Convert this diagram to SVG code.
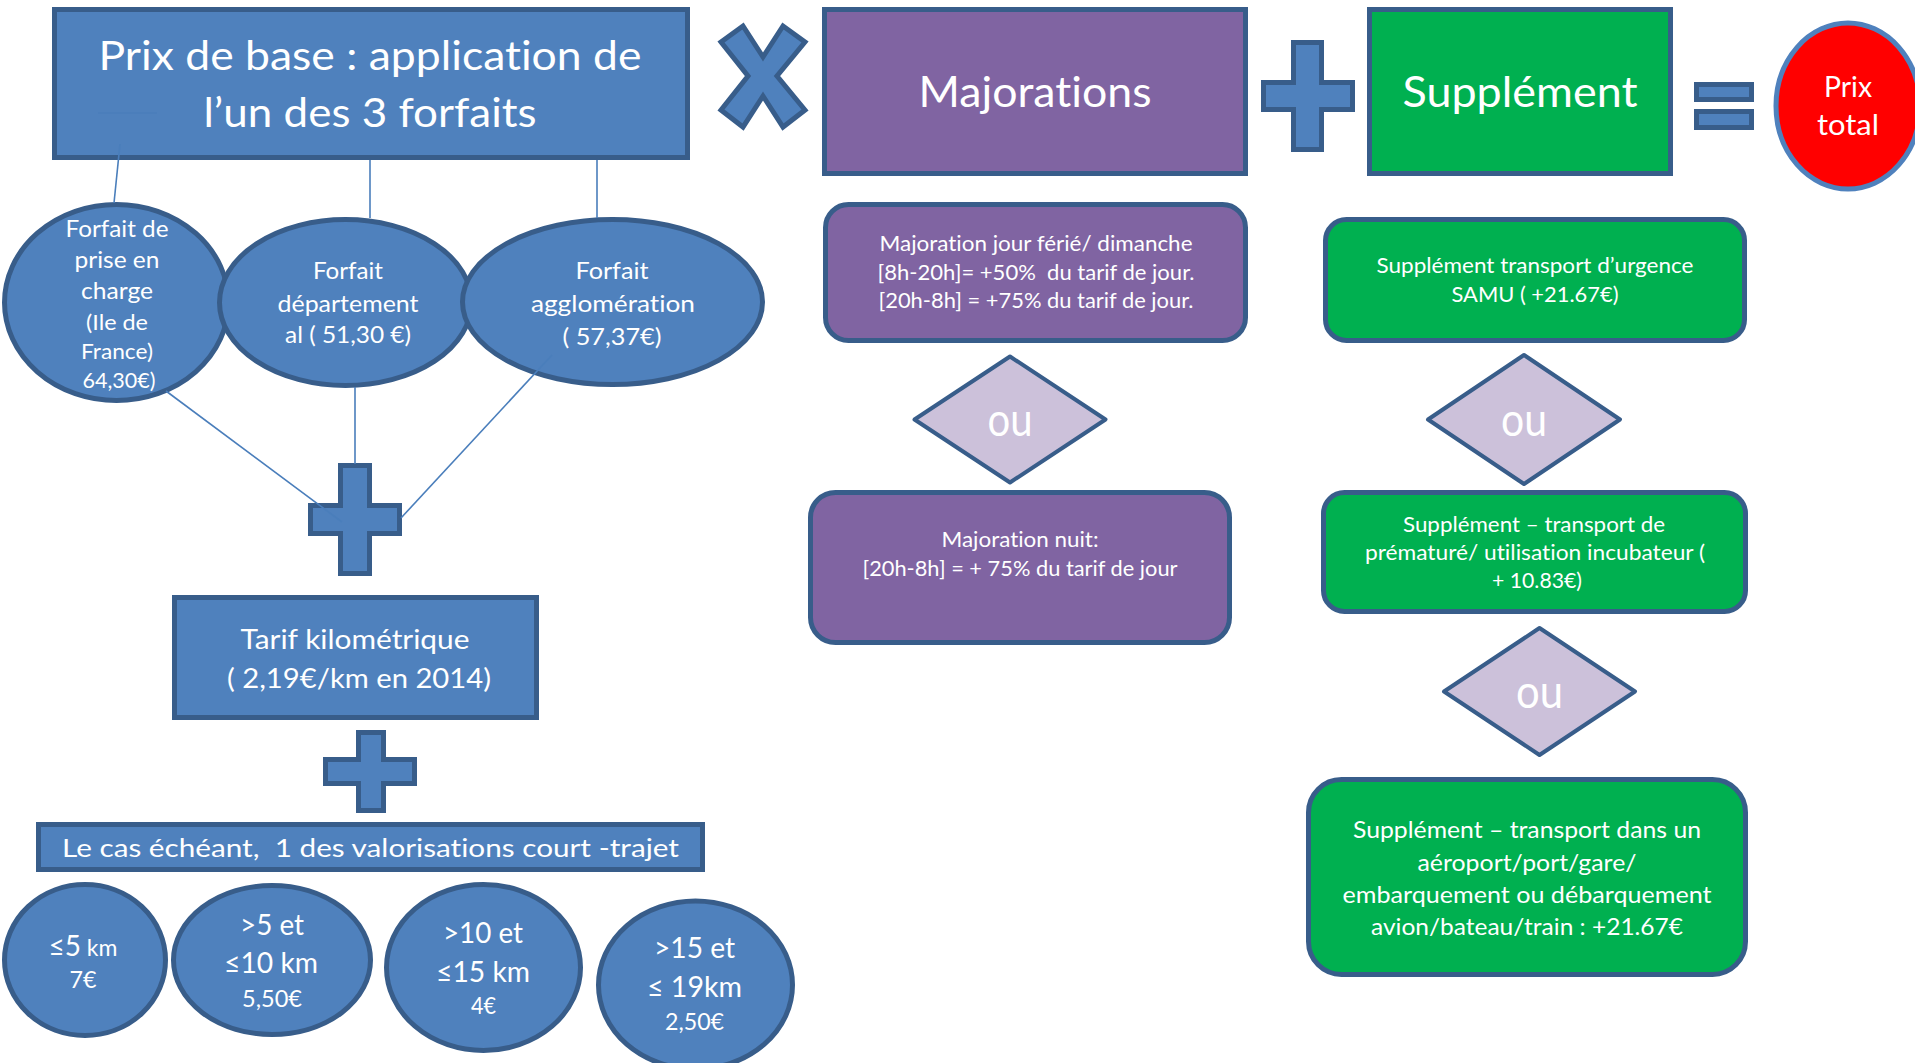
<svg xmlns="http://www.w3.org/2000/svg" width="1915" height="1063" viewBox="0 0 1915 1063">
<style>
text{font-family:Lato,"Open Sans","Liberation Sans",sans-serif;fill:#ffffff;text-anchor:middle;white-space:pre;font-variant-ligatures:none;font-feature-settings:"liga" 0}
.blue{fill:#4f81bd;stroke:#385d8a;stroke-width:5}
.purple{fill:#8064a2;stroke:#385d8a;stroke-width:5}
.green{fill:#00b050;stroke:#385d8a;stroke-width:5}
.dia{fill:#ccc1da;stroke:#385d8a;stroke-width:4;stroke-linejoin:round}
.conn{stroke:#4a7ebb;stroke-width:1.6;fill:none}
</style>
<rect width="1915" height="1063" fill="#ffffff"/>

<g id="prix-base">
<rect class="blue" x="54.5" y="9.5" width="633" height="148"/>
<text x="370" y="70" font-size="41" textLength="543" lengthAdjust="spacingAndGlyphs">Prix de base : application de</text>
<text x="370" y="127" font-size="41" textLength="333" lengthAdjust="spacingAndGlyphs">l’un des 3 forfaits</text>
</g>

<g id="multiply">
<polygon class="blue" stroke-linejoin="miter" points="721,42 743,26 763,57 783,26 805,42 777,76 805,110 783,127 763,96 743,127 721,110 748,76"/>
</g>

<g id="majorations">
<rect class="purple" x="824.5" y="9.5" width="421" height="164"/>
<text x="1035" y="107" font-size="42" textLength="233" lengthAdjust="spacingAndGlyphs">Majorations</text>
</g>

<g id="plus-top">
<polygon class="blue" points="1293.5,42.5 1321.5,42.5 1321.5,82.5 1352.5,82.5 1352.5,109.5 1321.5,109.5 1321.5,149.5 1293.5,149.5 1293.5,109.5 1263.5,109.5 1263.5,82.5 1293.5,82.5"/>
</g>

<g id="supplement">
<rect class="green" x="1369.5" y="9.5" width="301" height="164"/>
<text x="1520" y="107" font-size="43" textLength="235" lengthAdjust="spacingAndGlyphs">Supplément</text>
</g>

<g id="equals">
<rect class="blue" x="1696.5" y="84.5" width="55" height="15"/>
<rect class="blue" x="1696.5" y="111.5" width="55" height="16"/>
</g>

<g id="prix-total">
<ellipse cx="1848" cy="106" rx="72" ry="83" fill="#ff0000" stroke="#4f81bd" stroke-width="5"/>
<text x="1848" y="97" font-size="28" textLength="48" lengthAdjust="spacingAndGlyphs">Prix</text>
<text x="1848" y="135" font-size="28" textLength="62" lengthAdjust="spacingAndGlyphs">total</text>
</g>

<g id="forfait-prise-en-charge">
<ellipse class="blue" cx="116.5" cy="302.5" rx="112" ry="98"/>
<text x="117" y="237" font-size="23" textLength="103" lengthAdjust="spacingAndGlyphs">Forfait de</text>
<text x="117" y="268" font-size="23" textLength="85" lengthAdjust="spacingAndGlyphs">prise en</text>
<text x="117" y="299" font-size="23" textLength="72" lengthAdjust="spacingAndGlyphs">charge</text>
<text x="117" y="330" font-size="21" textLength="62" lengthAdjust="spacingAndGlyphs">(Ile de</text>
<text x="117" y="359" font-size="21" textLength="72" lengthAdjust="spacingAndGlyphs">France)</text>
<text x="119" y="388" font-size="21" textLength="73" lengthAdjust="spacingAndGlyphs">64,30€)</text>
</g>

<g id="forfait-departemental">
<ellipse class="blue" cx="345.5" cy="302.5" rx="126" ry="83"/>
<text x="348" y="279" font-size="23.5" textLength="70" lengthAdjust="spacingAndGlyphs">Forfait</text>
<text x="348" y="312" font-size="23.5" textLength="141" lengthAdjust="spacingAndGlyphs">département</text>
<text x="348" y="343" font-size="23.5" textLength="126" lengthAdjust="spacingAndGlyphs">al ( 51,30 €)</text>
</g>

<g id="forfait-agglomeration">
<ellipse class="blue" cx="612.5" cy="302" rx="150" ry="82.5"/>
<text x="612" y="279" font-size="23.5" textLength="73" lengthAdjust="spacingAndGlyphs">Forfait</text>
<text x="613" y="312" font-size="23.5" textLength="164" lengthAdjust="spacingAndGlyphs">agglomération</text>
<text x="612" y="345" font-size="23.5" textLength="99" lengthAdjust="spacingAndGlyphs">( 57,37€)</text>
</g>

<g id="plus-1">
<polygon class="blue" points="340.5,465.5 369.5,465.5 369.5,505.5 399.5,505.5 399.5,533.5 369.5,533.5 369.5,573.5 340.5,573.5 340.5,533.5 310.5,533.5 310.5,505.5 340.5,505.5"/>
</g>

<g id="tarif-kilometrique">
<rect class="blue" x="174.5" y="597.5" width="362" height="120"/>
<text x="355" y="649" font-size="27" textLength="229" lengthAdjust="spacingAndGlyphs">Tarif kilométrique</text>
<text x="359" y="688" font-size="27" textLength="264" lengthAdjust="spacingAndGlyphs">( 2,19€/km en 2014)</text>
</g>

<g id="plus-2">
<polygon class="blue" points="358.5,732.5 383.5,732.5 383.5,759.5 414.5,759.5 414.5,783.5 383.5,783.5 383.5,810.5 358.5,810.5 358.5,783.5 325.5,783.5 325.5,759.5 358.5,759.5"/>
</g>

<g id="court-trajet">
<rect class="blue" x="38.5" y="824.5" width="664" height="45"/>
<text x="370.5" y="857" font-size="25" textLength="617" lengthAdjust="spacingAndGlyphs">Le cas échéant,  1 des valorisations court -trajet</text>
</g>

<g id="km-5">
<ellipse class="blue" cx="85" cy="960" rx="80.5" ry="75.5"/>
<text x="83" y="956" font-size="28">≤5<tspan font-size="23"> km</tspan></text>
<text x="83" y="988" font-size="23.5" textLength="27" lengthAdjust="spacingAndGlyphs">7€</text>
</g>

<g id="km-10">
<ellipse class="blue" cx="272" cy="960" rx="98.5" ry="74.5"/>
<text x="272" y="935" font-size="28" textLength="64" lengthAdjust="spacingAndGlyphs">&gt;5 et</text>
<text x="271" y="973" font-size="28" textLength="94" lengthAdjust="spacingAndGlyphs">≤10 km</text>
<text x="272" y="1007" font-size="23.5" textLength="60" lengthAdjust="spacingAndGlyphs">5,50€</text>
</g>

<g id="km-15">
<ellipse class="blue" cx="483.5" cy="967.5" rx="97" ry="83"/>
<text x="483" y="943" font-size="28" textLength="80" lengthAdjust="spacingAndGlyphs">&gt;10 et</text>
<text x="483" y="982" font-size="28" textLength="94" lengthAdjust="spacingAndGlyphs">≤15 km</text>
<text x="483.5" y="1014" font-size="22.5" textLength="25" lengthAdjust="spacingAndGlyphs">4€</text>
</g>

<g id="km-19">
<ellipse class="blue" cx="695.5" cy="985" rx="97" ry="84"/>
<text x="694.5" y="958" font-size="28" textLength="81" lengthAdjust="spacingAndGlyphs">&gt;15 et</text>
<text x="694.5" y="997" font-size="28" textLength="95" lengthAdjust="spacingAndGlyphs">≤ 19km</text>
<text x="694.5" y="1030" font-size="23.5" textLength="59" lengthAdjust="spacingAndGlyphs">2,50€</text>
</g>

<g id="majoration-jour">
<rect class="purple" x="825.5" y="204.5" width="420" height="136" rx="23"/>
<text x="1036" y="251" font-size="21.5" textLength="313" lengthAdjust="spacingAndGlyphs">Majoration jour férié/ dimanche</text>
<text x="1036" y="280" font-size="21.5" textLength="317" lengthAdjust="spacingAndGlyphs">[8h-20h]= +50%  du tarif de jour.</text>
<text x="1036" y="308" font-size="21.5" textLength="315" lengthAdjust="spacingAndGlyphs">[20h-8h] = +75% du tarif de jour.</text>
</g>

<g id="ou-1">
<polygon class="dia" points="1010,356.5 1105.5,419.5 1010,482.5 914.5,419.5"/>
<text x="1010" y="436" font-size="46" textLength="45" lengthAdjust="spacingAndGlyphs">ou</text>
</g>

<g id="majoration-nuit">
<rect class="purple" x="810.5" y="492.5" width="419" height="150" rx="25"/>
<text x="1020" y="547" font-size="21.5" textLength="157" lengthAdjust="spacingAndGlyphs">Majoration nuit:</text>
<text x="1020" y="576" font-size="21.5" textLength="315" lengthAdjust="spacingAndGlyphs">[20h-8h] = + 75% du tarif de jour</text>
</g>

<g id="supplement-urgence">
<rect class="green" x="1325.5" y="219.5" width="419" height="121" rx="21"/>
<text x="1535" y="273" font-size="21.5" textLength="317" lengthAdjust="spacingAndGlyphs">Supplément transport d’urgence</text>
<text x="1535" y="302" font-size="21.5" textLength="167" lengthAdjust="spacingAndGlyphs">SAMU ( +21.67€)</text>
</g>

<g id="ou-2">
<polygon class="dia" points="1524,355 1620,419.5 1524,484 1428,419.5"/>
<text x="1524" y="436" font-size="46" textLength="46" lengthAdjust="spacingAndGlyphs">ou</text>
</g>

<g id="supplement-premature">
<rect class="green" x="1323.5" y="492.5" width="422" height="119" rx="21"/>
<text x="1534" y="532" font-size="21" textLength="262" lengthAdjust="spacingAndGlyphs">Supplément – transport de</text>
<text x="1535" y="560" font-size="21" textLength="340" lengthAdjust="spacingAndGlyphs">prématuré/ utilisation incubateur (</text>
<text x="1537" y="588" font-size="21" textLength="90" lengthAdjust="spacingAndGlyphs">+ 10.83€)</text>
</g>

<g id="ou-3">
<polygon class="dia" points="1539.5,628 1635,691.5 1539.5,755 1444,691.5"/>
<text x="1539.5" y="708" font-size="46" textLength="47" lengthAdjust="spacingAndGlyphs">ou</text>
</g>

<g id="supplement-aeroport">
<rect class="green" x="1308.5" y="779.5" width="437" height="195" rx="33"/>
<text x="1527" y="838" font-size="23.5" textLength="348" lengthAdjust="spacingAndGlyphs">Supplément – transport dans un</text>
<text x="1527" y="871" font-size="23.5" textLength="219" lengthAdjust="spacingAndGlyphs">aéroport/port/gare/</text>
<text x="1527" y="903" font-size="23.5" textLength="369" lengthAdjust="spacingAndGlyphs">embarquement ou débarquement</text>
<text x="1527" y="935" font-size="23.5" textLength="312" lengthAdjust="spacingAndGlyphs">avion/bateau/train : +21.67€</text>
</g>

<g id="connectors">
<line class="conn" x1="98" y1="113" x2="157" y2="113" stroke="#4677b3"/>
<line class="conn" x1="120" y1="144" x2="114" y2="203"/>
<line class="conn" x1="370" y1="160" x2="370" y2="218"/>
<line class="conn" x1="597" y1="160" x2="597" y2="218"/>
<line class="conn" x1="166" y1="391" x2="342" y2="522"/>
<line class="conn" x1="355" y1="387" x2="355" y2="464"/>
<line class="conn" x1="552" y1="355" x2="401" y2="518"/>
</g>
</svg>
